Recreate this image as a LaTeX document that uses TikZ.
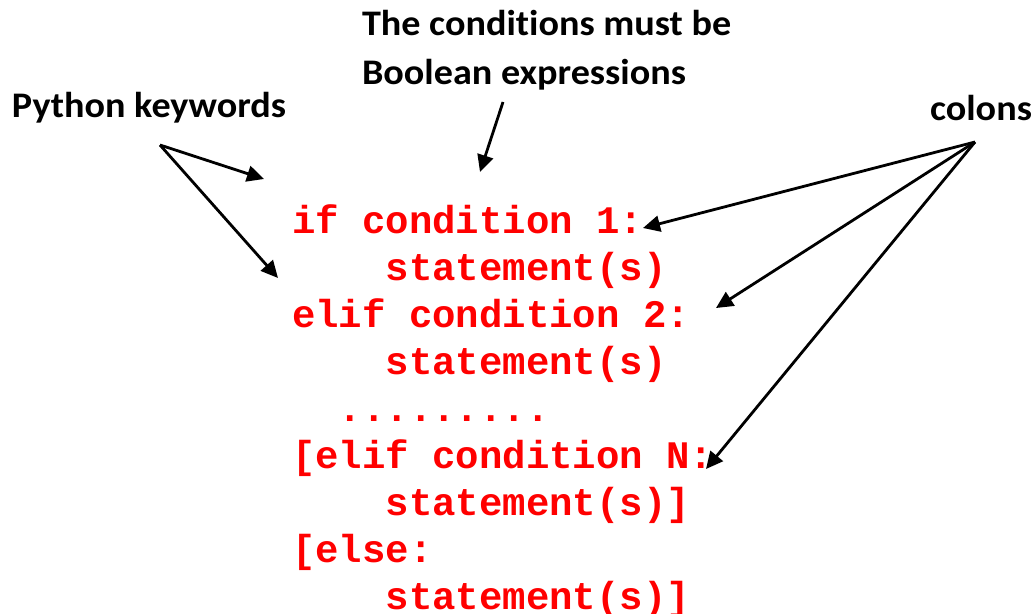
\documentclass[tikz,border=0pt]{standalone}
\usepackage{fontspec}
\setmainfont{Carlito}[Ligatures=CommonOff]
\newfontfamily\codefont{Liberation Mono}
\usetikzlibrary{arrows.meta}
\definecolor{codered}{RGB}{255,0,0}
\newcommand{\codedots}{.........}

\begin{document}
\begin{tikzpicture}[x=1pt, y=-1pt, line width=2.8pt,
    every node/.style={inner sep=0pt, outer sep=0pt},
    note/.style={font=\fontsize{36}{50}\selectfont\bfseries, anchor=base west, xscale=1.06},
    code/.style={font=\fontsize{39}{47}\codefont\bfseries, text=codered, anchor=base west},
    pointer/.style={-{Triangle[length=17pt, width=16pt]}}]
  \useasboundingbox (0,0) rectangle (1035,613);
  % labels
  \node[note] (cond) at (362,35) {The conditions must be};
  \node[note] (bool) at (362,84) {Boolean expressions};
  \node[note] (kw) at (12,117) {Python keywords};
  \node[note] (col) at (930,120) {colons};
  % code lines, one per baseline
  \foreach \txt [count=\i] in {{if condition 1:}, {~~~~statement(s)}, {elif condition 2:},
      {~~~~statement(s)}, {~~\codedots}, {[elif condition N:}, {~~~~statement(s)]}, {[else:},
      {~~~~statement(s)]}} {
    \node[code] (c\i) at (292,233+47*\i-47) {\txt};
  }
  % arrow ends
  \coordinate (kwfoot) at (160,145);
  \coordinate (condfoot) at (503,102);
  \coordinate (colfoot) at (975,142);
  \coordinate (ifkw) at (264,179);
  \coordinate (elifkw) at (278,278);
  \coordinate (condtip) at (480,172);
  \coordinate (colon1) at (643,228);
  \coordinate (colon2) at (716,308);
  \coordinate (colonN) at (706,469);
  \draw[pointer] (kwfoot) -- (ifkw);
  \draw[pointer] (kwfoot) -- (elifkw);
  \draw[pointer] (condfoot) -- (condtip);
  \foreach \t in {colon1, colon2, colonN} {
    \draw[pointer] (colfoot) -- (\t);
  }
\end{tikzpicture}
\end{document}
